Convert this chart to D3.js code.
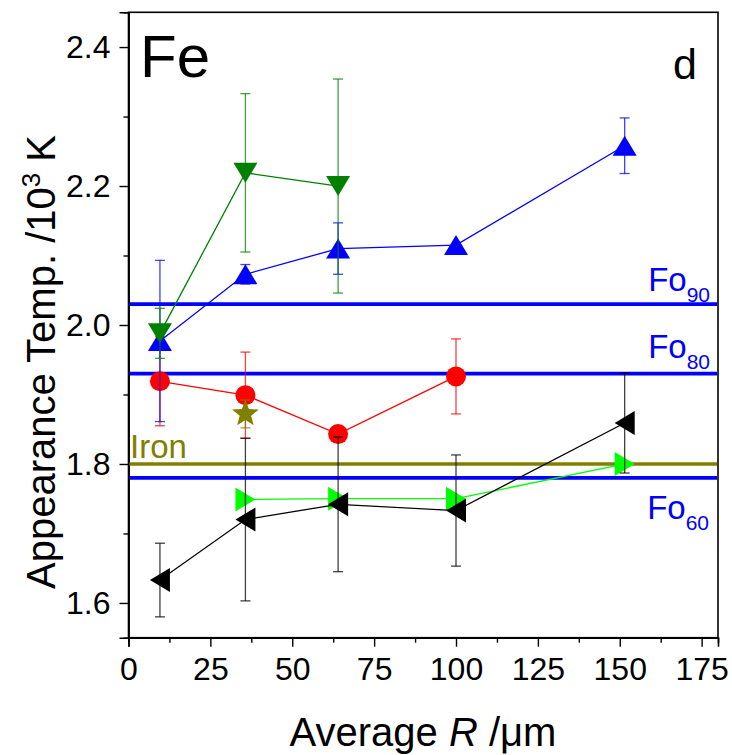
<!DOCTYPE html>
<html>
<head>
<meta charset="utf-8">
<script src="https://cdn.jsdelivr.net/npm/d3@7"></script>
<style>
  html, body { margin: 0; padding: 0; background: #fff; }
  svg { display: block; font-family: "Liberation Sans", Arial, Helvetica, sans-serif; }
</style>
</head>
<body>
<svg id="chart" width="732" height="755"></svg>
<script>
// Average particle radius (µm) shared by the measured series
const radius = [9.6, 35.7, 64, 100, 151.5];

// Appearance temperatures (10^3 K) and their uncertainties
const blueT = [1.977, 2.073, 2.110, 2.115, 2.258];
const blueErr = [0.116, 0.014, 0.037, 0, 0.040];

const greenR = [9.6, 35.7, 64];
const greenT = [1.988, 2.219, 2.200];
const greenErr = [0.036, 0.114, 0.154];

const redR = [9.6, 35.7, 64, 100];
const redT = [1.919, 1.899, 1.843, 1.926];
const redErr = [0.064, 0.062, 0, 0.054];

const blackT = [1.633, 1.720, 1.742, 1.733, 1.859];
const blackErr = [0.053, 0.117, 0.097, 0.080, 0.072];

const limeR = [35.7, 64, 100, 151.5];
const limeT = [1.749, 1.750, 1.750, 1.800];

const starR = [35.7];
const starT = [1.872];
const starErr = [0.020];

// Reference temperatures
const refNames = ["Fo90", "Fo80", "Iron", "Fo60"];
const refT = [2.03, 1.93, 1.80, 1.78];

const xTicks = [0, 25, 50, 75, 100, 125, 150, 175];
const xMinor = [12.5, 37.5, 62.5, 87.5, 112.5, 137.5, 162.5];
const yTicks = [1.6, 1.8, 2.0, 2.2, 2.4];
const yMinor = [1.7, 1.9, 2.1, 2.3];

const svg = d3.select("#chart");
const L = 128.5, R = 718, T = 12.3, B = 637.7;
const x = d3.scaleLinear().domain([0, 180]).range([L, R]);
const y = d3.scaleLinear().domain([1.55, 2.45]).range([B, T]);

const FONT = "\"Liberation Sans\", Arial, Helvetica, sans-serif";

// Frame
svg.append("rect").attr("x", L).attr("y", T).attr("width", R - L).attr("height", B - T)
  .attr("fill", "none").attr("stroke", "#000").attr("stroke-width", 1.6);

// Axes
svg.append("g").attr("transform", `translate(0,${B})`)
  .call(d3.axisBottom(x).tickValues(xTicks).tickFormat(d3.format("d")).tickSize(9).tickPadding(11));
svg.append("g").attr("transform", `translate(0,${B})`)
  .call(d3.axisBottom(x).tickValues(xMinor).tickFormat("").tickSize(5));
svg.append("g").attr("transform", `translate(${L},0)`)
  .call(d3.axisLeft(y).tickValues(yTicks).tickFormat(d3.format(".1f")).tickSize(9).tickPadding(9));
svg.append("g").attr("transform", `translate(${L},0)`)
  .call(d3.axisLeft(y).tickValues(yMinor).tickFormat("").tickSize(5));

svg.selectAll(".domain").attr("stroke", "#000").attr("stroke-width", 1.6);
svg.selectAll(".tick line").attr("stroke", "#000").attr("stroke-width", 1.4);
svg.selectAll(".tick text").attr("font-size", 32).attr("font-family", FONT).attr("fill", "#000");

// Reference lines
const refColor = ["#0000ff", "#0000ff", "#808000", "#0000ff"];
const refIdx = d3.range(refT.length);
svg.append("g").selectAll("line").data(refIdx).join("line")
  .attr("x1", L + 1).attr("x2", R - 1)
  .attr("y1", i => y(refT[i])).attr("y2", i => y(refT[i]))
  .attr("stroke", i => refColor[i]).attr("stroke-width", 3.6);

// Marker shapes
const triUp = (w, h) => `M0,${-h / 2}L${w / 2},${h / 2}L${-w / 2},${h / 2}Z`;
const triDown = (w, h) => `M0,${h / 2}L${w / 2},${-h / 2}L${-w / 2},${-h / 2}Z`;
const triLeft = (w, h) => `M${-w / 2},0L${w / 2},${-h / 2}L${w / 2},${h / 2}Z`;
const triRight = (w, h) => `M${w / 2},0L${-w / 2},${-h / 2}L${-w / 2},${h / 2}Z`;
const starPath = (ro, ri) => {
  const pts = [];
  for (let k = 0; k < 10; k++) {
    const r = k % 2 === 0 ? ro : ri;
    const a = -Math.PI / 2 + k * Math.PI / 5;
    pts.push([r * Math.cos(a), r * Math.sin(a)]);
  }
  return "M" + pts.map(p => p.join(",")).join("L") + "Z";
};

function series(xs, ys, errs, color, shape) {
  const g = svg.append("g");
  const idx = d3.range(xs.length);
  const line = d3.line().x(i => x(xs[i])).y(i => y(ys[i]));
  g.append("path").attr("d", line(idx)).attr("fill", "none")
    .attr("stroke", color).attr("stroke-width", 1.3);
  g.selectAll("path.m").data(idx).join("path").attr("class", "m")
    .attr("transform", i => `translate(${x(xs[i])},${y(ys[i])})`)
    .attr("d", shape).attr("fill", color);
  if (errs) {
    const eg = g.append("g").attr("stroke", color).attr("stroke-width", 1.3)
      .attr("stroke-opacity", 0.75);
    const ei = idx.filter(i => errs[i] > 0);
    eg.selectAll("line.v").data(ei).join("line").attr("class", "v")
      .attr("x1", i => x(xs[i])).attr("x2", i => x(xs[i]))
      .attr("y1", i => y(ys[i] + errs[i])).attr("y2", i => y(ys[i] - errs[i]));
    eg.selectAll("line.t").data(ei).join("line").attr("class", "t")
      .attr("x1", i => x(xs[i]) - 5).attr("x2", i => x(xs[i]) + 5)
      .attr("y1", i => y(ys[i] + errs[i])).attr("y2", i => y(ys[i] + errs[i]));
    eg.selectAll("line.b").data(ei).join("line").attr("class", "b")
      .attr("x1", i => x(xs[i]) - 5).attr("x2", i => x(xs[i]) + 5)
      .attr("y1", i => y(ys[i] - errs[i])).attr("y2", i => y(ys[i] - errs[i]));
  }
}

series(redR, redT, redErr, "#ff0000", "M10,0A10,10 0 1,1 -10,0A10,10 0 1,1 10,0Z");
series(radius, blueT, blueErr, "#0000ff", triUp(24, 20));
series(greenR, greenT, greenErr, "#008000", triDown(24, 20));
series(starR, starT, starErr, "#808000", starPath(14, 6));
series(limeR, limeT, null, "#00ff00", triRight(20, 24));
series(radius, blackT, blackErr, "#000000", triLeft(20, 24));

// Reference line labels
function foLabel(sub, xr, yb) {
  const t = svg.append("text").attr("x", xr).attr("y", yb).attr("text-anchor", "end")
    .attr("fill", "#0000ff").attr("font-family", FONT).attr("font-size", 33);
  t.append("tspan").text("Fo");
  t.append("tspan").attr("font-size", 21).attr("dy", 11).text(sub);
}
foLabel("90", 710, 290.7);
foLabel("80", 710, 357.7);
foLabel("60", 709, 519);

svg.append("text").attr("x", 130).attr("y", 458).attr("fill", "#808000")
  .attr("font-family", FONT).attr("font-size", 33).text("Iron");

// Panel annotations
svg.append("text").attr("x", 140).attr("y", 77).attr("font-family", FONT)
  .attr("font-size", 60).attr("fill", "#000").text("Fe");
svg.append("text").attr("x", 697).attr("y", 79).attr("text-anchor", "end")
  .attr("font-family", FONT).attr("font-size", 43).attr("fill", "#000").text("d");

// Axis titles
const xt = svg.append("text").attr("x", 423).attr("y", 746).attr("text-anchor", "middle")
  .attr("font-family", FONT).attr("font-size", 40).attr("fill", "#000");
xt.append("tspan").text("Average ");
xt.append("tspan").attr("font-style", "italic").text("R");
xt.append("tspan").text(" /\u03bcm");

const yt = svg.append("text").attr("transform", "translate(55,362) rotate(-90)")
  .attr("text-anchor", "middle").attr("font-family", FONT).attr("font-size", 40).attr("fill", "#000");
yt.append("tspan").text("Appearance Temp. /10");
yt.append("tspan").attr("font-size", 26).attr("dy", -15).text("3");
yt.append("tspan").attr("dy", 15).text(" K");
</script>
</body>
</html>
